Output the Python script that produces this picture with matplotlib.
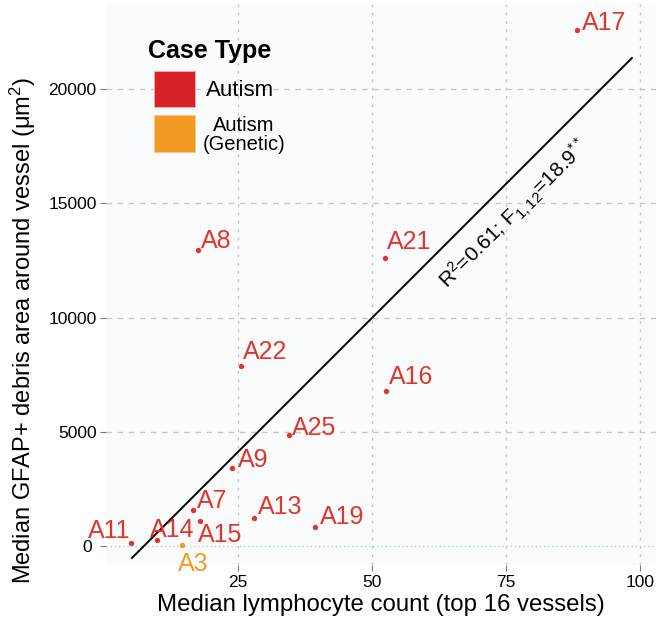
import matplotlib
matplotlib.use("Agg")
import matplotlib.pyplot as plt
import matplotlib.transforms as mtransforms
from matplotlib.patches import Rectangle

plt.rcParams['font.family'] = ['Liberation Sans', 'DejaVu Sans']
plt.rcParams['mathtext.fontset'] = 'custom'
plt.rcParams['mathtext.rm'] = 'Liberation Sans'
plt.rcParams['mathtext.it'] = 'Liberation Sans:italic'
plt.rcParams['mathtext.bf'] = 'Liberation Sans:bold'

# data
cases = ['A17', 'A21', 'A8', 'A22', 'A16', 'A25', 'A9', 'A7', 'A15', 'A13',
         'A19', 'A11', 'A14', 'A3']
lymph = [88.2, 52.4, 17.5, 25.5, 52.6, 34.5, 23.9, 16.6, 17.9, 28.0,
         39.4, 5.0, 9.9, 14.5]
debris = [22600, 12600, 12950, 7890, 6780, 4850, 3390, 1590, 1100, 1230,
          840, 130, 260, 40]
case_type = ['Autism'] * 13 + ['Autism (Genetic)']

# fitted line
fit_x = [5.2, 98.5]
slope = 234.7
intercept = -1750

red = '#E0362A'
orange = '#F39A25'
colors = {'Autism': red, 'Autism (Genetic)': orange}

# label offsets in pixels (dx, dy) and alignment
offs = {
    'A17': (5, 0, 'left', 'baseline'),
    'A21': (2, 9, 'left', 'baseline'),
    'A8': (3, 2, 'left', 'baseline'),
    'A22': (2, 7, 'left', 'baseline'),
    'A16': (3, 7, 'left', 'baseline'),
    'A25': (3, 0, 'left', 'baseline'),
    'A9': (6, 1, 'left', 'baseline'),
    'A7': (4, 2, 'left', 'baseline'),
    'A15': (-2, -2, 'left', 'top'),
    'A13': (4, 4, 'left', 'baseline'),
    'A19': (5, 3, 'left', 'baseline'),
    'A11': (0, 5, 'right', 'baseline'),
    'A14': (-7, 3, 'left', 'baseline'),
    'A3': (-4, -7, 'left', 'top'),
}

W, H = 656, 625
fig = plt.figure(figsize=(W / 100, H / 100), dpi=100)
ax = fig.add_axes([0.162, 0.096, 0.838, 0.9])
ax.set_facecolor('#FAFBFD')
for s in ax.spines.values():
    s.set_visible(False)

ax.set_xlim(0.4, 103)
ax.set_ylim(-840, 23800)
ax.set_xticks([25, 50, 75, 100])
ax.set_yticks([0, 5000, 10000, 15000, 20000])
ax.grid(True, axis='x', color='#C4C8CC', linestyle=(0, (2, 4)), linewidth=1)
for yv in [5000, 10000, 15000, 20000]:
    ax.axhline(yv, color='#C4C8CC', linestyle=(0, (4, 4)), linewidth=1, zorder=0)
ax.axhline(0, color='#A9D3E2', linestyle=(0, (1, 2)), linewidth=1, zorder=0)
ax.set_axisbelow(True)
ax.tick_params(axis='both', length=4, color='#7A7A7A', labelsize=12.5, pad=3)

# the "0" label sits a little further left in the original
shift = mtransforms.ScaledTranslation(-5 / 100, 0, fig.dpi_scale_trans)
zero_lab = ax.get_yticklabels()[0]
zero_lab.set_transform(zero_lab.get_transform() + shift)

# regression line
ax.plot(fit_x, [intercept + slope * v for v in fit_x], color='black', lw=1.4, zorder=2)

for name, xv, yv, ct in zip(cases, lymph, debris, case_type):
    c = colors[ct]
    ax.scatter(xv, yv, s=15, color=c, zorder=3, linewidths=0)
    dx, dy, ha, va = offs[name]
    ax.annotate(name, (xv, yv), xytext=(dx * 0.72, dy * 0.72),
                textcoords='offset points', ha=ha, va=va,
                fontsize=18, color=c)

ax.text(76.6, 14500, r'R$^2$=0.61; F$_{1,12}$=18.9$^{**}$', fontsize=15,
        rotation=44.8, ha='center', va='center', rotation_mode='anchor')

ax.set_xlabel('Median lymphocyte count (top 16 vessels)', fontsize=17.3, labelpad=3)
ax.set_ylabel('Median GFAP+ debris area around vessel (μm$^2$)', fontsize=17)
ax.yaxis.set_label_coords(-0.125, 0.416)

# legend drawn by hand (pixel positions from the top-left corner)
def fx(px):
    return px / W

def fy(py):
    return 1 - py / H

fig.text(fx(148), fy(58), 'Case Type', fontsize=18, fontweight='bold',
         ha='left', va='baseline')
fig.patches.append(Rectangle((fx(154), fy(107)), fx(41), 36 / H,
                             transform=fig.transFigure, facecolor='#D42228',
                             edgecolor='#F2A898', linewidth=0.7))
fig.patches.append(Rectangle((fx(154), fy(152)), fx(41), 37 / H,
                             transform=fig.transFigure, facecolor='#F39A25',
                             edgecolor='#F8C888', linewidth=0.7))
fig.text(fx(206), fy(91), 'Autism', fontsize=16, ha='left', va='center')
fig.text(fx(244), fy(135), 'Autism\n(Genetic)', fontsize=14.5, ha='center',
         va='center', multialignment='center', linespacing=1.0)

fig.savefig('out.png', dpi=100)
